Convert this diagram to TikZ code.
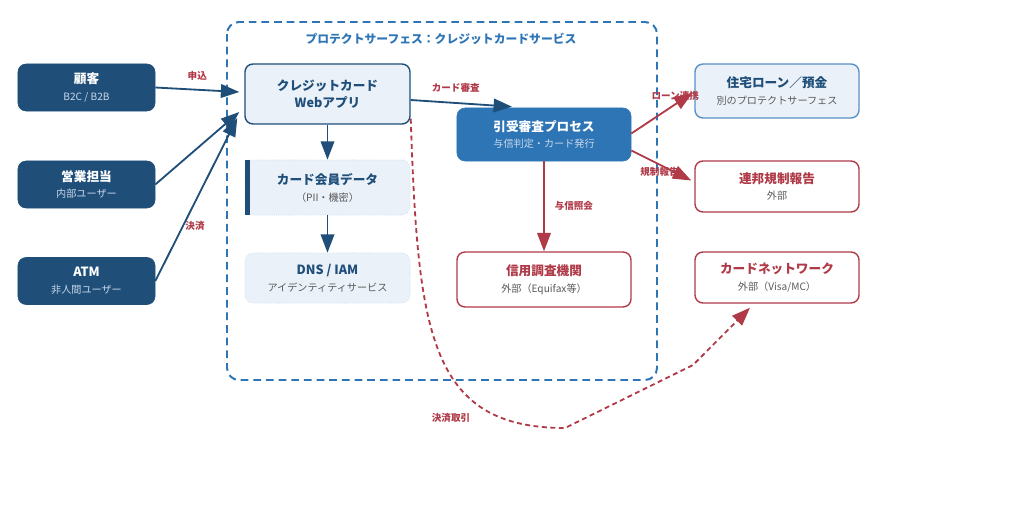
\documentclass[tikz,border=0pt]{standalone}
\usepackage{fontspec}
\setmainfont{Noto Sans CJK JP}
\usetikzlibrary{arrows.meta,positioning,calc}
\definecolor{navyblue}{HTML}{1F4E79}
\definecolor{midblue}{HTML}{2E75B6}
\definecolor{paleblue}{HTML}{EAF1F9}
\definecolor{faintline}{HTML}{C9D6E6}
\definecolor{crimson}{HTML}{B03A48}
\definecolor{subgray}{HTML}{595959}
\definecolor{subpale}{HTML}{C9D8EA}
\newcommand{\smalltxt}{\fontsize{7.2pt}{12pt}\selectfont}

\begin{document}
\begin{tikzpicture}[x=0.025cm, y=-0.025cm, >={Triangle[length=0.46cm,width=0.34cm]},
    every node/.style={font=\fontsize{9pt}{12pt}\selectfont},
    actor/.style={draw=navyblue, fill=navyblue, rounded corners=0.2cm, minimum width=3.425cm, minimum height=1.175cm, align=center, text=white},
    inner/.style={fill=paleblue, rounded corners=0.2cm, minimum width=4.125cm, align=center, text=navyblue},
    process/.style={draw=midblue, fill=midblue, rounded corners=0.2cm, minimum width=4.35cm, minimum height=1.325cm, align=center, text=white},
    outer/.style={draw=crimson, fill=white, line width=1pt, rounded corners=0.2cm, minimum width=4.1cm, minimum height=1.275cm, align=center, text=crimson},
    lbl/.style={font=\fontsize{6.8pt}{8pt}\selectfont\bfseries, text=crimson, inner sep=1pt},
    navyarrow/.style={->, navyblue, line width=1.3pt},
    redarrow/.style={->, crimson, line width=1.3pt}]
    \useasboundingbox (0,0) rectangle (1024,512);

    \draw[midblue, line width=1.4pt, dash pattern=on 5.5pt off 3.5pt, rounded corners=0.3cm] (227,22) rectangle (657,380);
    \node at (441,39) [font=\fontsize{8.4pt}{10pt}\selectfont\bfseries, text=midblue] (surftitle) {プロテクトサーフェス：クレジットカードサービス};

    \node at (86.5,87.5) [actor] (cust) {\textbf{顧客}\\{\smalltxt\color{subpale}B2C / B2B}};
    \node at (86.5,184.5) [actor] (sales) {\textbf{営業担当}\\{\smalltxt\color{subpale}内部ユーザー}};
    \node at (86.5,281) [actor] (atm) {\textbf{ATM}\\{\smalltxt\color{subpale}非人間ユーザー}};

    \node at (327.5,94) [inner, draw=navyblue, line width=1pt, minimum height=1.5cm] (web) {\textbf{クレジットカード}\\\textbf{Webアプリ}};
    \node at (327.5,187.5) [inner, draw=faintline, densely dotted, minimum height=1.375cm] (mem) {\textbf{カード会員データ}\\{\smalltxt\color{subgray}（PII・機密）}};
    \draw[navyblue, line width=3.5pt] ($(mem.north west)+(2.5,0)$) -- ($(mem.south west)+(2.5,0)$);
    \node at (327.5,278) [inner, draw=faintline, densely dotted, minimum height=1.25cm] (dns) {\textbf{DNS / IAM}\\{\smalltxt\color{subgray}アイデンティティサービス}};

    \node at (544,134.5) [process] (uw) {\textbf{引受審査プロセス}\\{\smalltxt\color{subpale}与信判定・カード発行}};
    \node at (544,279.5) [outer, minimum width=4.35cm, minimum height=1.375cm] (cb) {\textbf{信用調査機関}\\{\smalltxt\color{subgray}外部（Equifax等）}};

    \node at (777,91) [outer, draw=midblue!80, fill=paleblue, text=navyblue, minimum height=1.35cm] (home) {\textbf{住宅ローン／預金}\\{\smalltxt\color{subgray}別のプロテクトサーフェス}};
    \node at (777,186.5) [outer] (reg) {\textbf{連邦規制報告}\\{\smalltxt\color{subgray}外部}};
    \node at (777,277.5) [outer] (nw) {\textbf{カードネットワーク}\\{\smalltxt\color{subgray}外部（Visa/MC）}};

    \draw[navyarrow] (cust.east) -- ($(web.west)+(-5,-2)$) node[midway, above=5pt, lbl] {申込};
    \draw[navyarrow] (sales.east) -- ($(web.west)+(-5,18)$);
    \draw[navyarrow] (atm.east) -- ($(web.west)+(-7,24)$) node[pos=0.34, right=0pt, lbl] {決済};
    \draw[navyarrow] (web.south) -- (mem.north);
    \draw[navyarrow] (mem.south) -- (dns.north);
    \draw[navyarrow] ($(web.east)+(0,6)$) -- ($(uw.north)+(-32,-1)$) node[midway, above=6.5pt, xshift=-4pt, lbl] {カード審査};

    \draw[redarrow] (uw.south) -- (cb.north) node[midway, right=6pt, lbl] {与信照会};
    \draw[redarrow] ($(uw.east)+(0,-1)$) -- ($(home.west)+(-2,2)$) node[pos=0.72, above=1pt, lbl] {ローン連携};
    \draw[redarrow] ($(uw.east)+(0,16)$) -- ($(reg.west)+(-3,-6)$) node[pos=0.47, below=0pt, lbl] {規制報告};
    \draw[redarrow, dash pattern=on 3.5pt off 2.5pt] ($(web.south east)+(0,-6)$) .. controls (418,330) and (428,428) .. (565,428) -- (693,365) -- ($(nw.south)+(-27,4)$);
    \node at (451,418) [lbl] (paylbl) {決済取引};
\end{tikzpicture}
\end{document}
